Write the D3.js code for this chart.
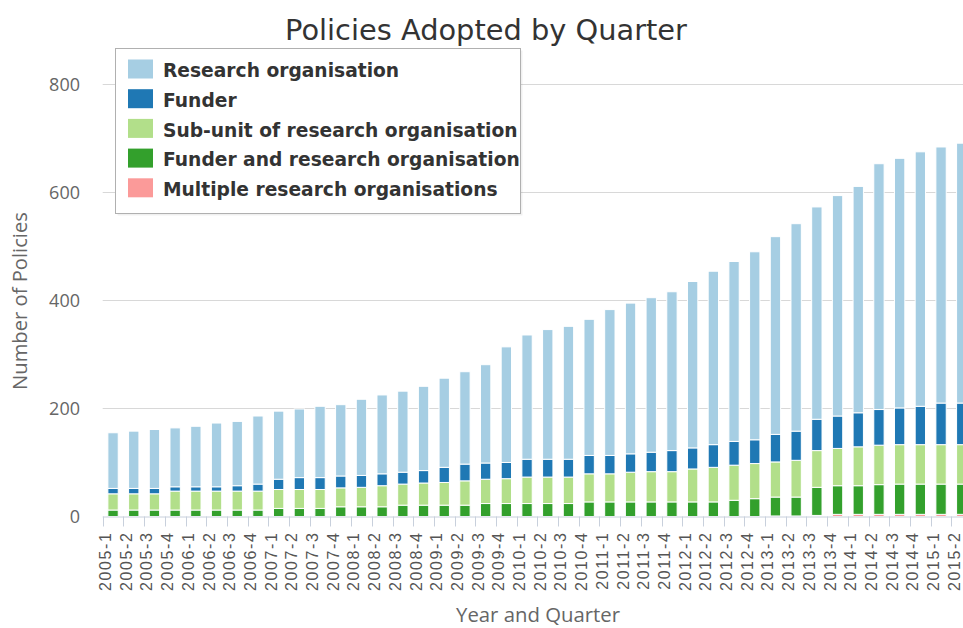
<!DOCTYPE html>
<html><head><meta charset="utf-8">
<script src="https://cdn.jsdelivr.net/npm/d3@7/dist/d3.min.js"></script>
<style>html,body{margin:0;padding:0;background:#fff;overflow:hidden;}</style>
</head><body><svg id="chart"></svg>
<script>
const categories = ["2005-1","2005-2","2005-3","2005-4","2006-1","2006-2","2006-3","2006-4",
  "2007-1","2007-2","2007-3","2007-4","2008-1","2008-2","2008-3","2008-4",
  "2009-1","2009-2","2009-3","2009-4","2010-1","2010-2","2010-3","2010-4",
  "2011-1","2011-2","2011-3","2011-4","2012-1","2012-2","2012-3","2012-4",
  "2013-1","2013-2","2013-3","2013-4","2014-1","2014-2","2014-3","2014-4",
  "2015-1","2015-2"];
const researchOrg = [103,106,109,109,112,118,119,126,126,127,132,132,141,146,150,156,165,171,182,214,230,240,246,252,270,279,286,294,308,321,333,348,366,384,393,408,419,455,462,471,474,481];
const funder = [10,10,10,8,8,8,10,13,19,22,22,22,22,22,22,23,28,31,30,30,33,33,33,34,34,34,36,39,39,42,44,44,51,54,58,60,63,66,68,71,77,77];
const subUnit = [30,30,30,35,35,35,35,35,35,35,35,35,36,39,39,41,42,45,45,46,49,49,49,52,52,55,56,56,61,64,65,65,65,68,68,69,72,73,73,73,73,73];
const funderAndRO = [12,12,12,12,12,12,12,12,15,15,15,18,18,18,21,21,21,21,24,24,24,24,24,27,27,27,27,27,27,27,30,33,35,35,52,53,53,55,56,56,56,56];
const multipleRO = [0,0,0,0,0,0,0,0,0,0,0,0,0,0,0,0,0,0,0,0,0,0,0,0,0,0,0,0,0,0,0,0,1,1,2,4,4,4,4,4,4,4];
const yTicks = [0,200,400,600,800];
const seriesNames = ["Research organisation","Funder","Sub-unit of research organisation","Funder and research organisation","Multiple research organisations"];
const seriesColors = ["#a6cee3","#1f78b4","#b2df8a","#33a02c","#fb9a99"];
const titleText = "Policies Adopted by Quarter";
const yTitle = "Number of Policies";
const xTitle = "Year and Quarter";

const W = 990, H = 628;
const svg = d3.select("#chart").attr("width", W).attr("height", H)
  .style("font-family", "'DejaVu Sans', sans-serif");

const plotLeft = 102.7, step = 20.7;
const x = d3.scaleBand().domain(categories)
  .range([plotLeft, plotLeft + step * categories.length])
  .paddingInner(0.5).paddingOuter(0.25);
const y = d3.scaleLinear().domain([0, 800]).range([516.5, 84.3]);

// table for stacking
const keys = ["multiple","fro","sub","funder","ro"];
const table = categories.map((c, i) => ({cat: c, multiple: multipleRO[i], fro: funderAndRO[i], sub: subUnit[i], funder: funder[i], ro: researchOrg[i]}));
const keyColor = {ro: seriesColors[0], funder: seriesColors[1], sub: seriesColors[2], fro: seriesColors[3], multiple: seriesColors[4]};
const stacked = d3.stack().keys(keys)(table);

// gridlines
svg.append("g").selectAll("line").data(yTicks.filter(t => t > 0)).join("line")
  .attr("x1", plotLeft).attr("x2", W)
  .attr("y1", d => Math.round(y(d)) + 0.5).attr("y2", d => Math.round(y(d)) + 0.5)
  .attr("stroke", "#d8d8d8").attr("stroke-width", 1);

// y axis labels
const yAxis = svg.append("g").attr("transform", `translate(80,0)`)
  .call(d3.axisLeft(y).tickValues(yTicks).tickSize(0).tickPadding(0).tickFormat(d3.format("d")));
yAxis.select(".domain").remove();
yAxis.selectAll("text").attr("fill", "#666").style("font-family", "'Open Sans', sans-serif")
  .style("font-size", "18px").attr("dy", "0.36em");

// bars
svg.append("g").selectAll("g").data(stacked).join("g")
  .attr("fill", d => keyColor[d.key])
  .selectAll("rect").data(d => d.filter(p => p[1] - p[0] > 0)).join("rect")
  .attr("x", d => x(d.data.cat))
  .attr("width", x.bandwidth())
  .attr("y", d => y(d[1]))
  .attr("height", d => y(d[0]) - y(d[1]))
  .attr("stroke", "#fff").attr("stroke-width", 1);

// x axis
const xAxisG = svg.append("g").attr("transform", `translate(0,${y(0)})`)
  .call(d3.axisBottom(x).tickSize(0).tickPadding(0));
xAxisG.select(".domain").attr("stroke", "#c8d0dc").attr("d", `M${plotLeft},0.5H${W}`);
xAxisG.selectAll("text")
  .attr("transform", "rotate(-90)")
  .attr("text-anchor", "end")
  .attr("x", -15).attr("y", -2).attr("dy", "0")
  .attr("fill", "#555")
  .style("font-size", "16px").style("letter-spacing", "1.6px");
// tick marks between categories
const bounds = categories.map(c => x(c) + x.bandwidth() / 2 - x.step() / 2);
bounds.push(x(categories[categories.length - 1]) + x.bandwidth() / 2 + x.step() / 2);
xAxisG.append("g").selectAll("line").data(bounds).join("line")
  .attr("x1", d => Math.round(d) + 0.5).attr("x2", d => Math.round(d) + 0.5)
  .attr("y1", 0).attr("y2", 10).attr("stroke", "#c8d0dc");

function fit(sel, target) {
  const n = sel.node();
  const fs = parseFloat(sel.style("font-size"));
  const len = n.getComputedTextLength();
  sel.style("font-size", (fs * target / len) + "px");
}

// title
const t = svg.append("text").attr("x", 486).attr("y", 39.5).attr("text-anchor", "middle")
  .attr("fill", "#333").style("font-size", "28px").text(titleText);
fit(t, 402);

// axis titles
const yt = svg.append("text").attr("transform", "translate(27,301) rotate(-90)")
  .attr("text-anchor", "middle").attr("fill", "#666")
  .style("font-family", "'Open Sans', sans-serif").style("font-size", "19px").text(yTitle);
fit(yt, 178);
const xt = svg.append("text").attr("x", 538).attr("y", 622)
  .attr("text-anchor", "middle").attr("fill", "#666")
  .style("font-family", "'Open Sans', sans-serif").style("font-size", "19px").text(xTitle);
fit(xt, 164);

// legend
const lg = svg.append("g");
lg.append("rect").attr("x", 117.5).attr("y", 50.5).attr("width", 405).attr("height", 165)
  .attr("fill", "#000").attr("opacity", 0.06);
lg.append("rect").attr("x", 115.5).attr("y", 48.5).attr("width", 405).attr("height", 165)
  .attr("fill", "#fff").attr("stroke", "#b0b0b0").attr("stroke-width", 1);
const items = lg.selectAll("g.item").data(seriesNames).join("g").attr("class", "item")
  .attr("transform", (d, i) => `translate(0,${i * 29.7})`);
items.append("rect").attr("x", 128).attr("y", 59.5).attr("width", 25).attr("height", 19)
  .attr("fill", (d, i) => seriesColors[i]);
const ltxt = items.append("text").attr("x", 163).attr("y", 77.3)
  .attr("fill", "#333").style("font-weight", "bold").style("font-size", "18px").text(d => d);
// fit legend font using longest label
const longest = ltxt.filter((d, i) => i === 2);
const fs0 = 18, len0 = longest.node().getComputedTextLength();
ltxt.style("font-size", (fs0 * 355 / len0) + "px");
</script>
</body></html>
